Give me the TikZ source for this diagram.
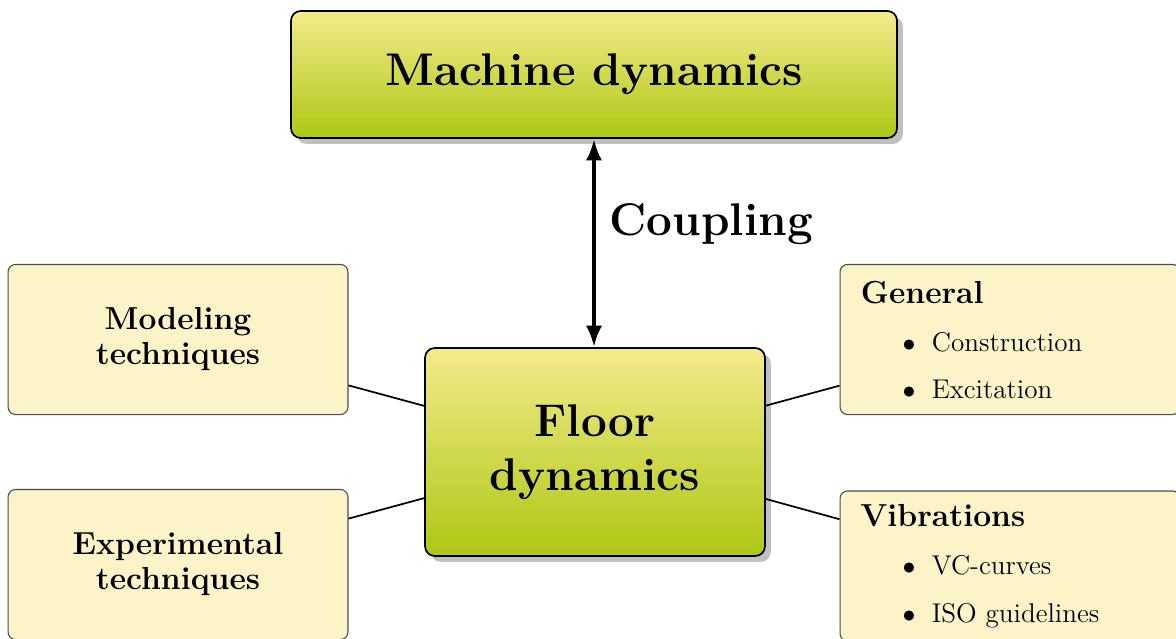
\documentclass[tikz,border=0pt]{standalone}
\usetikzlibrary{shadows,arrows.meta}
\definecolor{gtop}{RGB}{244,235,140}
\definecolor{gbot}{RGB}{174,199,20}
\definecolor{lightbox}{RGB}{252,244,200}
\definecolor{shadowgray}{RGB}{192,192,192}
\newcommand\bigbold{\fontsize{21.3}{25.1}\selectfont\bfseries}
\begin{document}
\begin{tikzpicture}[x=0.4651pt,y=-0.4651pt,
 mainbox/.style={draw=black, thick, rounded corners=4.5pt, top color=gtop, bottom color=gbot,
   drop shadow={fill=shadowgray, opacity=1, shadow xshift=2.7pt, shadow yshift=-2.7pt},
   align=center, font=\bigbold, inner sep=0pt},
 sidebox/.style={draw=black!70, line width=0.5pt, rounded corners=3.5pt, fill=lightbox,
   minimum width=158.1pt, minimum height=69.8pt, inner sep=0pt, align=center,
   font=\fontsize{14.8}{16.3}\selectfont\bfseries},
 boxtitle/.style={anchor=base west, inner sep=0pt, font=\fontsize{14.8}{17}\selectfont\bfseries},
 boxitem/.style={anchor=base west, inner sep=0pt, font=\fontsize{12.6}{15}\selectfont},
 link/.style={draw=black, thick},
 coupler/.style={line width=1.9pt, {Latex[length=10pt,width=7.5pt]}-{Latex[length=10pt,width=7.5pt]}}
]
\useasboundingbox (0,0) rectangle (1176,639);
\node[mainbox, minimum width=281.85pt, minimum height=59.07pt] (machine) at (594,74.5) {Machine dynamics};
\node[mainbox, minimum width=158.1pt, minimum height=96.7pt] (floor) at (595,452) {Floor\\dynamics};
\node[sidebox] (model) at (178,339.5) {Modeling\\techniques};
\node[sidebox] (exper) at (178,564.5) {Experimental\\techniques};
\node[sidebox] (general) at (1010,339.5) {};
\node[sidebox] (vibr) at (1010,566) {};
\node[boxtitle] (gentitle) at (860.5,303) {General};
\node[boxitem] (gen1) at (902.2,351) {$\bullet$\hspace{7.6pt}Construction};
\node[boxitem] (gen2) at (902.2,398) {$\bullet$\hspace{7.6pt}Excitation};
\node[boxtitle] (vibtitle) at (860,526) {Vibrations};
\node[boxitem] (vib1) at (902.2,574.5) {$\bullet$\hspace{7.6pt}VC-curves};
\node[boxitem] (vib2) at (902.2,622) {$\bullet$\hspace{7.6pt}ISO guidelines};
\draw[link] (floor) -- (model);
\draw[link] (floor) -- (exper);
\draw[link] (floor) -- (general);
\draw[link] (floor) -- (vibr);
\draw[coupler] (machine.south) -- (machine.south |- floor.north)
  node[pos=0.41, anchor=west, inner sep=0pt, xshift=6.3pt, font=\bigbold] (couplabel) {Coupling};
\end{tikzpicture}
\end{document}
